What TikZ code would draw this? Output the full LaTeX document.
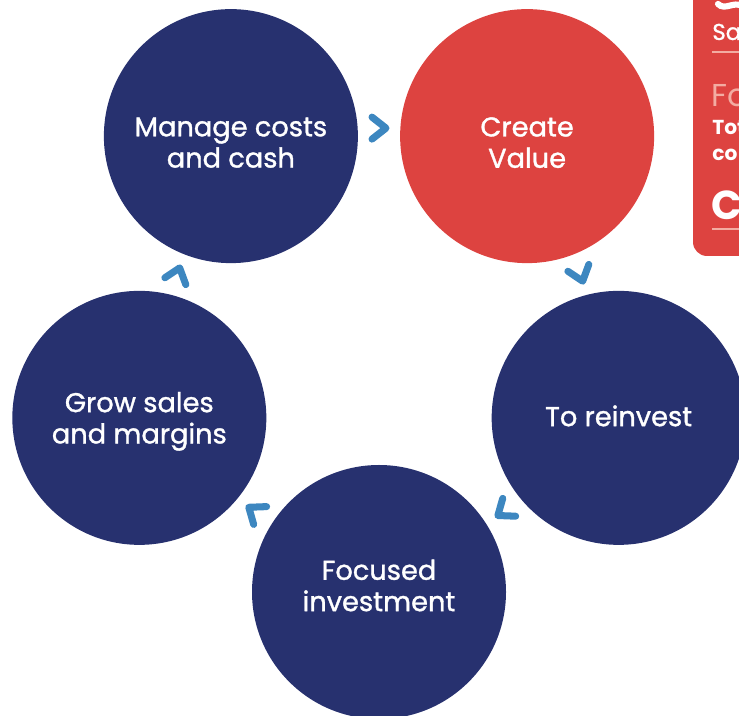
\documentclass[tikz,border=0pt]{standalone}
\usepackage{fontspec}
\setmainfont{Poppins}
\newfontfamily\stagefont{Poppins}[FakeBold=1.2]
\usetikzlibrary{calc}

\definecolor{navy}{RGB}{39,49,111}
\definecolor{brandred}{RGB}{221,67,64}
\definecolor{chevblue}{RGB}{61,135,192}
\definecolor{palered}{RGB}{243,172,162}

\tikzset{
  stage/.style={circle, fill=navy, minimum size=5.08cm, inner sep=0pt},
  stage text/.style={text=white, align=center, yshift=-0.13cm,
    font=\stagefont\fontsize{15.5}{17.8}\selectfont},
  chevron/.style={draw=chevblue, line width=4pt, line cap=round, line join=round},
  panel text/.style={anchor=west, inner sep=0pt, text=white},
}

\begin{document}
\begin{tikzpicture}
\useasboundingbox (0,0) rectangle (14.78,14.32);
\coordinate (hub) at (7.58,7.52);

% the five stages of the cycle
\node[stage, label={[stage text]center:Manage costs\\and cash}]
  (manage) at ($(hub)+(126:5.04)$) {};
\node[stage, fill=brandred, label={[stage text]center:Create\\Value}]
  (create) at ($(hub)+(54:5.04)$) {};
\node[stage, label={[stage text, yshift=0.17cm]center:To reinvest}]
  (reinvest) at ($(hub)+(-18:5.04)$) {};
\node[stage, label={[stage text, yshift=0.26cm]center:Focused\\investment}]
  (focused) at ($(hub)+(-90:5.04)$) {};
\node[stage, label={[stage text, yshift=0.06cm]center:Grow sales\\and margins}]
  (grow) at ($(hub)+(198:5.04)$) {};

% chevrons between neighbouring stages, pointing clockwise
\foreach \a/\b/\ang in {manage/create/0, create/reinvest/-72,
    reinvest/focused/-144, focused/grow/-216, grow/manage/-288}
  \draw[chevron, shift={($(\a)!0.5!(\b)$)}, rotate=\ang]
    (-0.14,0.38) -- (0.14,0.16) -- (-0.14,-0.06);

% side panel, cut by the page edge
\begin{scope}
\clip (0,0) rectangle (14.78,14.32);
\fill[brandred, rounded corners=0.28cm] (13.86,9.2) rectangle (15.6,15);
\draw[white, line width=3.5pt, line cap=round]
  (14.36,14.24) .. controls (14.5,14.1) and (14.66,14.3) .. (14.85,14.2);
\node[panel text, font=\stagefont\fontsize{13}{15}\selectfont] (sales) at (14.24,13.68) {Sa};
\draw[palered, line width=0.8pt] (14.24,13.28) -- (15,13.28);
\node[panel text, text=palered, font=\fontsize{18}{20}\selectfont] (focus) at (14.22,12.4) {Fo};
\node[panel text, font=\bfseries\fontsize{11.5}{13}\selectfont] (total) at (14.24,11.78) {Tot};
\node[panel text, font=\bfseries\fontsize{11.5}{13}\selectfont] (cost) at (14.24,11.22) {co};
\node[panel text, font=\bfseries\fontsize{23}{26}\selectfont] (cash) at (14.22,10.22) {C};
\draw[palered, line width=0.8pt] (14.24,9.74) -- (15,9.74);
\end{scope}
\end{tikzpicture}
\end{document}
